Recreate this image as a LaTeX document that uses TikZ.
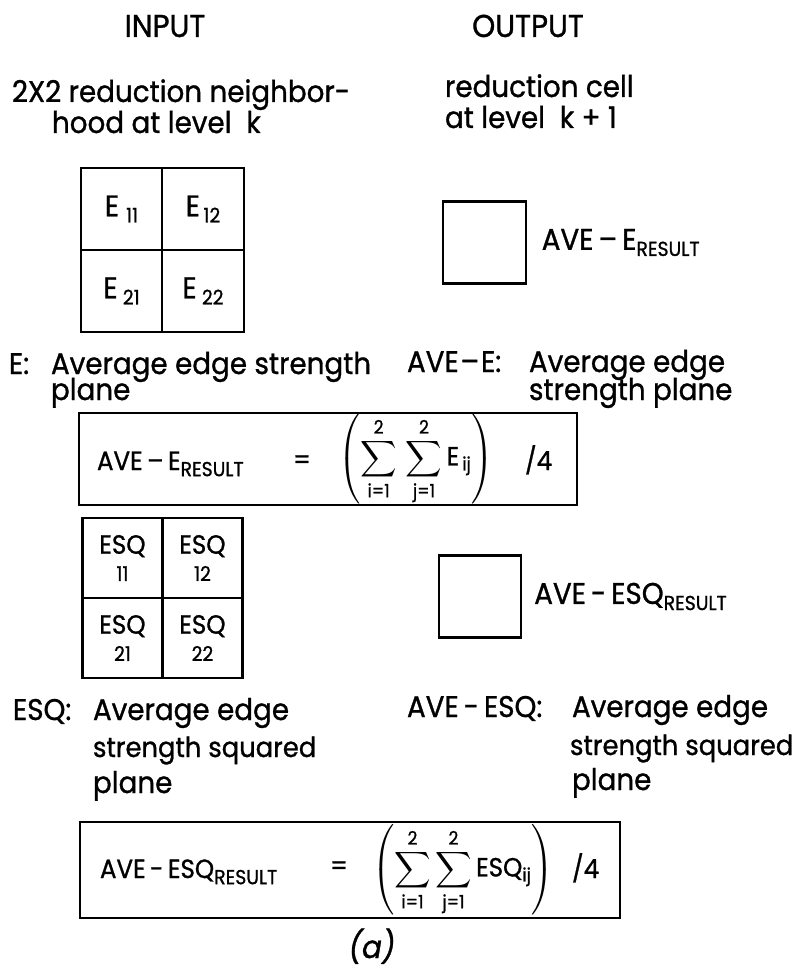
\documentclass[tikz,border=0pt]{standalone}
\usepackage{fix-cm}
\usepackage{amsmath}
\usepackage{fontspec}
\setmainfont{Poppins}[FakeStretch=0.93, FakeBold=1]
\usetikzlibrary{positioning}

% lowered subscripts as lettered on the sheet
\newcommand{\lowsub}[1]{\raisebox{-3.5pt}{\fontsize{11.5}{12}\selectfont #1}}

\begin{document}
\begin{tikzpicture}[x=0.02cm, y=-0.02cm,
    every node/.style={inner sep=0pt, outer sep=0pt},
    head/.style={anchor=base, font=\fontsize{18}{20}\selectfont},
    txt/.style={anchor=base west, font=\fontsize{17}{20}\selectfont},
    narrow/.style={font=\fontsize{15.8}{20}\selectfont},
    ecell/.style={draw, line width=1.3pt, minimum width=1.63cm, minimum height=1.64cm,
        font=\fontsize{17}{20}\selectfont},
    sqcell/.style={draw, line width=1.3pt, minimum width=1.6cm, minimum height=1.6cm,
        align=center, font=\fontsize{15}{15.5}\selectfont},
    outbox/.style={draw, line width=1.3pt, minimum width=1.65cm, minimum height=1.64cm},
    formbox/.style={draw, line width=1.3pt},
    form/.style={font=\fontsize{15}{18}\selectfont}]
    \useasboundingbox (0,0) rectangle (797,973);

    \node[head] (input) at (165,37) {INPUT};
    \node[head] (output) at (528,37) {OUTPUT};

    \node[txt] (nbhd1) at (12,102) {2X2 reduction neighbor-};
    \node[txt] (nbhd2) at (52,133) {hood at level\ \ k};
    \node[txt] (cell1) at (445,97) {reduction cell};
    \node[txt] (cell2) at (445,128) {at level\ \ k\ +\ 1};

    % E plane, 2x2 neighborhood and its reduction cell
    \node[ecell] (e11) at (121.5,209) {E\kern4pt\lowsub{11}};
    \node[ecell, right=0pt of e11] (e12) {E\kern2pt\lowsub{12}};
    \node[ecell, below=0pt of e11] (e21) {E\kern3pt\lowsub{21}};
    \node[ecell, right=0pt of e21] (e22) {E\kern3pt\lowsub{22}};
    \node[outbox] (aveE) at (484.5,242.5) {};
    \node[txt, anchor=west, right=0.32cm of aveE] (aveElbl) {AVE\,--\,E\lowsub{RESULT}};

    \node[txt] (etag) at (9,374) {E:};
    \node[txt] (edesc1) at (51,374) {Average edge strength};
    \node[txt] (edesc2) at (51,400) {plane};
    \node[txt] (avetag) at (407,372) {AVE\kern1pt--\kern1ptE:};
    \node[txt] (avedesc1) at (529,372) {Average edge};
    \node[txt] (avedesc2) at (529,400) {strength plane};

    \node[formbox, minimum width=9.96cm, minimum height=1.84cm] (fmE) at (328,459) {};
    \node[txt, form] (fmElhs) at (97,470) {AVE\,--\,E\lowsub{RESULT}};
    \node[form] (fmEeq) at (302,462) {=};
    \node[form] (fmEsum) at (416,459)
        {$\displaystyle\left(\sum_{\text{i=1}}^{\text{2}}\,\sum_{\text{j=1}}^{\text{2}}\text{E}_{\,\text{ij}}\right)$};
    \node[txt, form] (fmEdiv) at (525,470) {/4};

    % ESQ plane
    \node[sqcell] (q11) at (122.5,558) {ESQ\\{\fontsize{11.5}{12}\selectfont 11}};
    \node[sqcell, right=0pt of q11] (q12) {ESQ\\{\fontsize{11.5}{12}\selectfont 12}};
    \node[sqcell, below=0pt of q11] (q21) {ESQ\\{\fontsize{11.5}{12}\selectfont 21}};
    \node[sqcell, right=0pt of q21] (q22) {ESQ\\{\fontsize{11.5}{12}\selectfont 22}};
    \node[outbox] (aveQ) at (480,596.5) {};
    \node[txt, anchor=west, right=0.26cm of aveQ] (aveQlbl) {AVE\,-\,ESQ\lowsub{RESULT}};

    \node[txt] (qtag) at (13,720) {ESQ:};
    \node[txt] (qdesc1) at (93,720) {Average edge};
    \node[txt, narrow] (qdesc2) at (93,757) {strength squared};
    \node[txt] (qdesc3) at (93,793) {plane};
    \node[txt] (aveqtag) at (407,717) {AVE\,-\,ESQ:};
    \node[txt] (aveqdesc1) at (572,717) {Average edge};
    \node[txt, narrow] (aveqdesc2) at (570,755) {strength squared};
    \node[txt] (aveqdesc3) at (572,790) {plane};

    \node[formbox, minimum width=10.8cm, minimum height=1.92cm] (fmQ) at (350,870) {};
    \node[txt, form] (fmQlhs) at (100,878) {AVE\,-\,ESQ\lowsub{RESULT}};
    \node[form] (fmQeq) at (339,868) {=};
    \node[form] (fmQsum) at (463,870)
        {$\displaystyle\left(\sum_{\text{i=1}}^{\text{2}}\sum_{\text{j=1}}^{\text{2}}\text{ESQ}_{\text{ij}}\right)$};
    \node[txt, form] (fmQdiv) at (572,878) {/4};

    \node[head, font=\fontsize{18}{20}\selectfont\itshape] (caption) at (372,958) {(a)};
\end{tikzpicture}
\end{document}
